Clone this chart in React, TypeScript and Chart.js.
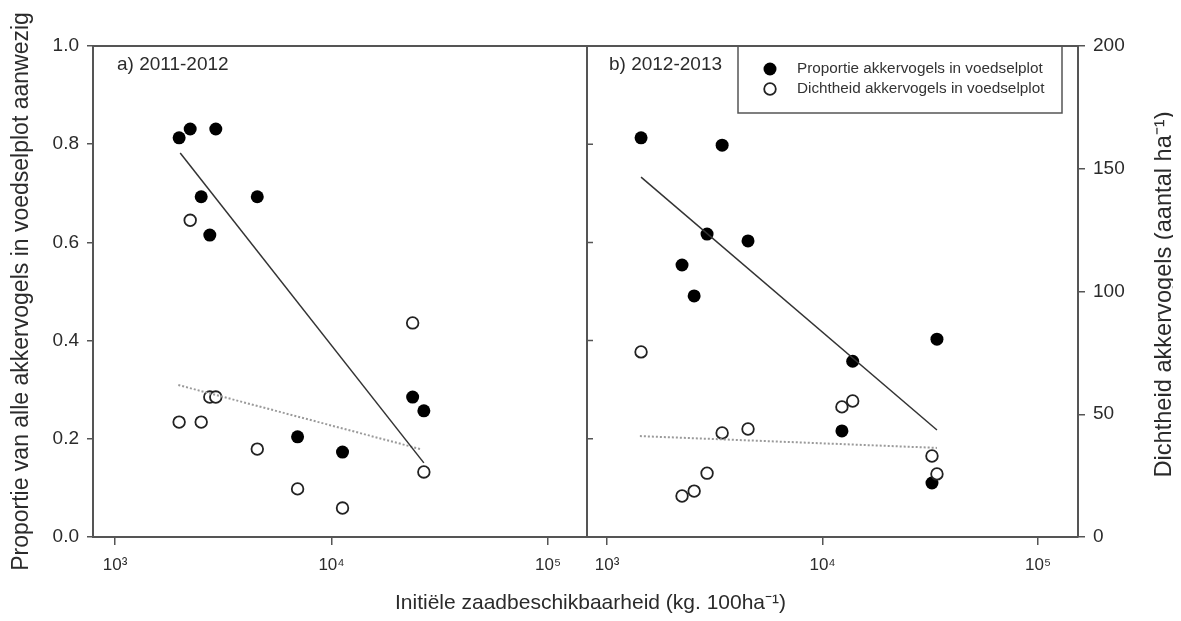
import { useEffect, useRef } from 'react';
import { Chart, registerables } from 'chart.js';

Chart.register(...registerables);

const FONT = '"Liberation Sans", Arial, Helvetica, sans-serif';
const TEXT = '#2b2b2b';
const AXIS = '#555555';

// Panel a) 2011-2012 : sites (initial seed availability, kg/100ha)
const siteXA = [1977, 2224, 2500, 2740, 2920, 4540, 6970, 11240, 23700, 26700];
const propA = [0.813, 0.831, 0.693, 0.615, 0.831, 0.693, 0.204, 0.173, 0.285, 0.257];
const densA = [46.8, 129, 46.8, 57, 57, 35.8, 19.6, 11.8, 87.2, 26.5];
const fitPropXA = [2000, 26700];
const fitPropYA = [0.782, 0.151];
const fitDensXA = [1960, 25800];
const fitDensYA = [61.9, 35.8];

// Panel b) 2012-2013
const siteXB = [1438, 2228, 2536, 2911, 3420, 4510, 12300, 13800, 32200, 33960];
const propB = [0.813, 0.554, 0.491, 0.617, 0.798, 0.603, 0.216, 0.358, 0.11, 0.403];
const densB = [75.4, 16.7, 18.7, 26, 42.4, 44, 53, 55.4, 33, 25.7];
const fitPropXB = [1438, 33960];
const fitPropYB = [0.733, 0.218];
const fitDensXB = [1420, 33960];
const fitDensYB = [41.1, 36.3];

const xRangeA = [791, 151400];
const xRangeB = [807, 153300];
const xTickValues = [1e3, 1e4, 1e5];
const xTickLabels = ['10³', '10⁴', '10⁵'];
const propTicks = [0, 0.2, 0.4, 0.6, 0.8, 1.0];
const densTicks = [0, 50, 100, 150, 200];

const panelLabels = ['a) 2011-2012', 'b) 2012-2013'];
const legendLabels = ['Proportie akkervogels in voedselplot', 'Dichtheid akkervogels in voedselplot'];
const xTitle = 'Initiële zaadbeschikbaarheid (kg. 100ha⁻¹)';
const yTitle = 'Proportie van alle akkervogels in voedselplot aanwezig';
const y2Title = 'Dichtheid akkervogels (aantal ha⁻¹)';

const pts = (xs: number[], ys: number[]) => xs.map((x, i) => ({ x, y: ys[i] }));

const decorPlugin = {
  id: 'decor',
  afterDraw(chart: any) {
    const { ctx, chartArea: ca, scales } = chart;
    const x1 = scales.x1;
    const x2 = scales.x2;
    const y = scales.y;
    ctx.save();
    ctx.strokeStyle = AXIS;
    ctx.lineWidth = 2;
    ctx.beginPath();
    ctx.moveTo(ca.left - 1, ca.top);
    ctx.lineTo(ca.right + 1, ca.top);
    ctx.moveTo(x2.left, ca.top);
    ctx.lineTo(x2.left, ca.bottom);
    ctx.stroke();
    // inner ticks on divider
    ctx.lineWidth = 1.5;
    ctx.beginPath();
    for (const v of propTicks) {
      const py = y.getPixelForValue(v);
      ctx.moveTo(x2.left, py);
      ctx.lineTo(x2.left + 6, py);
    }
    ctx.stroke();

    // panel labels
    ctx.fillStyle = TEXT;
    ctx.font = `19px ${FONT}`;
    ctx.textBaseline = 'middle';
    ctx.textAlign = 'left';
    ctx.fillText(panelLabels[0], x1.left + 24, ca.top + 19);
    ctx.fillText(panelLabels[1], x2.left + 22, ca.top + 19);

    // legend box
    const lr = ca.right - 16;
    const ll = lr - 324;
    const lt = ca.top;
    const lb = ca.top + 67;
    ctx.strokeStyle = AXIS;
    ctx.lineWidth = 1.5;
    ctx.beginPath();
    ctx.moveTo(ll, lt);
    ctx.lineTo(ll, lb);
    ctx.lineTo(lr, lb);
    ctx.lineTo(lr, lt);
    ctx.stroke();
    const rows = [lt + 23, lt + 43];
    ctx.beginPath();
    ctx.arc(ll + 32, rows[0], 6.5, 0, Math.PI * 2);
    ctx.fillStyle = '#000';
    ctx.fill();
    ctx.beginPath();
    ctx.arc(ll + 32, rows[1], 5.8, 0, Math.PI * 2);
    ctx.fillStyle = '#fff';
    ctx.fill();
    ctx.strokeStyle = '#222';
    ctx.lineWidth = 1.8;
    ctx.stroke();
    ctx.fillStyle = '#333';
    ctx.font = `15.3px ${FONT}`;
    ctx.fillText(legendLabels[0], ll + 59, rows[0]);
    ctx.fillText(legendLabels[1], ll + 59, rows[1]);

    // x title
    ctx.fillStyle = TEXT;
    ctx.font = `21px ${FONT}`;
    ctx.textAlign = 'center';
    ctx.textBaseline = 'alphabetic';
    ctx.fillText(xTitle, chart.width / 2, ca.bottom + 72);

    // right y title (reads bottom-to-top)
    ctx.textBaseline = 'middle';
    ctx.translate(chart.width - 9, (ca.top + ca.bottom) / 2 + 3);
    ctx.rotate(-Math.PI / 2);
    ctx.font = `23.6px ${FONT}`;
    ctx.fillText(y2Title, 0, 0);
    ctx.restore();
  },
};

const xScale = (range: number[], weight: number) => ({
  type: 'logarithmic',
  position: 'bottom',
  stack: 'x',
  stackWeight: weight,
  min: range[0],
  max: range[1],
  afterBuildTicks: (s: any) => {
    s.ticks = xTickValues.map((v) => ({ value: v }));
  },
  afterFit: (s: any) => {
    s.height = 76;
  },
  ticks: {
    callback: (v: any) => xTickLabels[xTickValues.indexOf(Number(v))] ?? '',
    font: { size: 17 },
    color: TEXT,
    padding: 10,
    autoSkip: false,
    maxRotation: 0,
  },
  grid: { drawOnChartArea: false, drawTicks: true, tickLength: 8, color: AXIS, lineWidth: 1.5 },
  border: { display: true, color: AXIS, width: 2 },
});

export default function App() {
  const ref = useRef<HTMLCanvasElement | null>(null);
  useEffect(() => {
    if (!ref.current) return;
    Chart.defaults.font.family = FONT;
    Chart.defaults.color = TEXT;
    const filled = { pointRadius: 6.5, pointBackgroundColor: '#000', pointBorderColor: '#000', pointBorderWidth: 0, showLine: false };
    const open = { pointRadius: 5.8, pointBackgroundColor: '#fff', pointBorderColor: '#222', pointBorderWidth: 1.8, showLine: false };
    const solid = { showLine: true, pointRadius: 0, borderColor: '#333', borderWidth: 1.5 };
    const dotted = { showLine: true, pointRadius: 0, borderColor: '#9a9a9a', borderWidth: 2, borderDash: [2, 2] };
    const chart = new Chart(ref.current, {
      type: 'scatter',
      data: {
        datasets: [
          { label: 'a fit prop', data: pts(fitPropXA, fitPropYA), xAxisID: 'x1', yAxisID: 'y', ...solid },
          { label: 'a fit dens', data: pts(fitDensXA, fitDensYA), xAxisID: 'x1', yAxisID: 'y2', ...dotted },
          { label: 'a dens', data: pts(siteXA, densA), xAxisID: 'x1', yAxisID: 'y2', ...open },
          { label: 'a prop', data: pts(siteXA, propA), xAxisID: 'x1', yAxisID: 'y', ...filled },
          { label: 'b fit prop', data: pts(fitPropXB, fitPropYB), xAxisID: 'x2', yAxisID: 'y', ...solid },
          { label: 'b fit dens', data: pts(fitDensXB, fitDensYB), xAxisID: 'x2', yAxisID: 'y2', ...dotted },
          { label: 'b dens', data: pts(siteXB, densB), xAxisID: 'x2', yAxisID: 'y2', ...open },
          { label: 'b prop', data: pts(siteXB, propB), xAxisID: 'x2', yAxisID: 'y', ...filled },
        ],
      } as any,
      options: {
        responsive: false,
        animation: false,
        layout: { padding: { top: 38, left: 0, right: 0, bottom: 0 } },
        plugins: { legend: { display: false }, tooltip: { enabled: false }, title: { display: false } },
        scales: {
          x1: xScale(xRangeA, 494),
          x2: xScale(xRangeB, 491),
          y: {
            type: 'linear',
            position: 'left',
            min: 0,
            max: 1,
            afterBuildTicks: (s: any) => {
              s.ticks = propTicks.map((v) => ({ value: v }));
            },
            afterFit: (s: any) => {
              s.width = 85;
            },
            ticks: { callback: (v: any) => Number(v).toFixed(1), font: { size: 19 }, color: TEXT, padding: 8 },
            grid: { drawOnChartArea: false, drawTicks: true, tickLength: 6, color: AXIS, lineWidth: 1.5 },
            border: { display: true, color: AXIS, width: 2 },
            title: { display: true, text: yTitle, font: { size: 23 }, color: TEXT, padding: { top: 0, bottom: 0 } },
          },
          y2: {
            type: 'linear',
            position: 'right',
            min: 0,
            max: 200,
            afterBuildTicks: (s: any) => {
              s.ticks = densTicks.map((v) => ({ value: v }));
            },
            afterFit: (s: any) => {
              s.width = 95;
            },
            ticks: { callback: (v: any) => String(v), font: { size: 19 }, color: TEXT, padding: 8 },
            grid: { drawOnChartArea: false, drawTicks: true, tickLength: 7, color: AXIS, lineWidth: 1.5 },
            border: { display: true, color: AXIS, width: 2 },
          },
        },
      } as any,
      plugins: [decorPlugin],
    });
    return () => chart.destroy();
  }, []);
  return (
    <div style={{ width: 1165, height: 605 }}>
      <canvas ref={ref} width={1165} height={605} style={{ display: 'block' }} />
    </div>
  );
}
